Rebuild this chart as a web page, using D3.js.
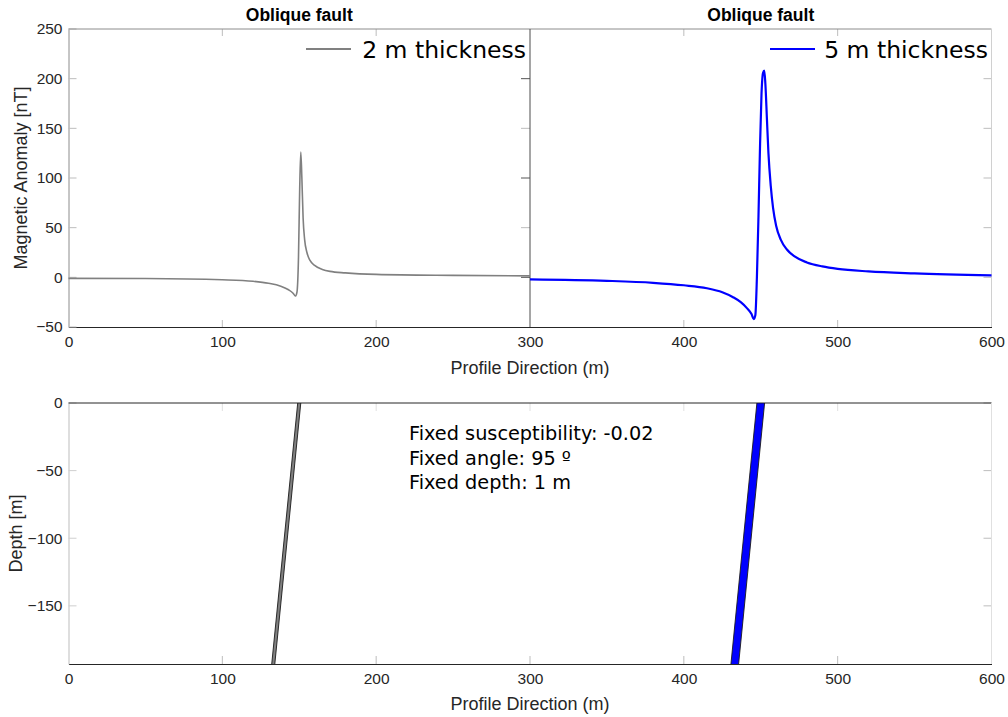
<!DOCTYPE html>
<html>
<head>
<meta charset="utf-8">
<script src="https://cdn.jsdelivr.net/npm/d3@7"></script>
<style>
  html, body { margin: 0; padding: 0; background: #fff; }
  svg { display: block; }
  .tick text { font-family: "Liberation Sans", Arial, sans-serif; font-size: 15.5px; fill: #262626; }
</style>
</head>
<body>
<svg id="chart" width="1008" height="717"></svg>
<script>
// Profile positions (m) and magnetic anomaly (nT), 2 m thick fault
const thinX = [0, 50, 100, 120, 130, 138, 143, 146, 147.5, 148.5, 149.5, 150.3, 151, 151.7, 152.5, 153.5, 155, 157, 160, 165, 170, 180, 200, 250, 300];
const thinY = [-1, -1.2, -2.5, -4, -6, -9, -12.5, -16, -18.8, -15, 20, 90, 126, 100, 60, 38, 25, 17, 12, 8, 6, 4.5, 3, 2, 1.5];

// Profile positions (m) and magnetic anomaly (nT), 5 m thick fault
const thickX = [300, 350, 380, 400, 415, 425, 432, 437, 441, 444, 445.5, 446.5, 447.5, 448.5, 449.5, 450.5, 451.5, 452.3, 453, 454, 455, 456.5, 458, 460, 463, 467, 472, 480, 490, 500, 520, 550, 600];
const thickY = [-2, -3.5, -5.5, -8, -11, -15, -20, -25, -31, -37, -42, -38, 0, 60, 130, 185, 206, 208, 195, 160, 125, 92, 70, 52, 38, 28, 21, 15, 11, 8.5, 6, 4, 2];

// Fault bodies: top position (m), thickness (m), dip angle (deg)
const faultTops = [149, 447.5];
const faultWidths = [2, 5];
const dipAngle = 95;
const faultColors = ["#808080", "#0000ff"];

const legendLabels = ["2 m thickness", "5 m thickness"];
const panelTitles = ["Oblique fault", "Oblique fault"];
const notes = ["Fixed susceptibility: -0.02", "Fixed angle: 95 º", "Fixed depth: 1 m"];

const xTicks = [0, 100, 200, 300, 400, 500, 600];
const anomalyTicks = [-50, 0, 50, 100, 150, 200, 250];
const depthTicks = [-150, -100, -50, 0];

const svg = d3.select("#chart");
const font = '"Liberation Sans", Arial, sans-serif';
const labelSize = 18;

// ---------- scales ----------
const x = d3.scaleLinear().domain([0, 600]).range([68.5, 991.5]);
const yTop = d3.scaleLinear().domain([-50, 250]).range([327, 29]);
const yBot = d3.scaleLinear().domain([-193, 0]).range([664, 403]);

// ---------- upper panels ----------
const upper = svg.append("g");

// x axis along the bottom
const xAxisTop = upper.append("g").attr("transform", `translate(0,${yTop(-50)})`)
  .call(d3.axisBottom(x).tickValues(xTicks).tickSize(0).tickPadding(9));
xAxisTop.select(".domain").attr("stroke", "#262626");

// inner tick marks (bottom and top)
xTicks.slice(1, -1).forEach(v => {
  if (v === 300) return;
  upper.append("line").attr("x1", x(v)).attr("x2", x(v)).attr("y1", yTop(-50)).attr("y2", yTop(-50) - 7).attr("stroke", "#bdbdbd");
  upper.append("line").attr("x1", x(v)).attr("x2", x(v)).attr("y1", yTop(250)).attr("y2", yTop(250) + 7).attr("stroke", "#bdbdbd");
});

// y axis on the left
const yAxisTop = upper.append("g").attr("transform", `translate(${x(0)},0)`)
  .call(d3.axisLeft(yTop).tickValues(anomalyTicks).tickSize(0).tickPadding(6));
yAxisTop.select(".domain").attr("stroke", "#8c8c8c");
anomalyTicks.forEach(v => {
  upper.append("line").attr("x1", x(0)).attr("x2", x(0) + 8).attr("y1", yTop(v)).attr("y2", yTop(v)).attr("stroke", "#bdbdbd");
  if (v > -50 && v < 250) {
    upper.append("line").attr("x1", x(300) - 9).attr("x2", x(300)).attr("y1", yTop(v)).attr("y2", yTop(v)).attr("stroke", v % 100 === 0 ? "#555" : "#bdbdbd");
    upper.append("line").attr("x1", x(600) - 8).attr("x2", x(600)).attr("y1", yTop(v)).attr("y2", yTop(v)).attr("stroke", "#bdbdbd");
  }
});

// frame lines
upper.append("line").attr("x1", x(0)).attr("x2", x(600)).attr("y1", yTop(250)).attr("y2", yTop(250)).attr("stroke", "#8c8c8c");
upper.append("line").attr("x1", x(300)).attr("x2", x(300)).attr("y1", yTop(250)).attr("y2", yTop(-50)).attr("stroke", "#4d4d4d");
upper.append("line").attr("x1", x(600)).attr("x2", x(600)).attr("y1", yTop(250)).attr("y2", yTop(-50)).attr("stroke", "#d0d0d0");

// anomaly curves
const line = d3.line().x(d => x(d[0])).y(d => yTop(d[1])).curve(d3.curveMonotoneX);
upper.append("path").datum(d3.zip(thinX, thinY)).attr("d", line)
  .attr("fill", "none").attr("stroke", faultColors[0]).attr("stroke-width", 1.6);
upper.append("path").datum(d3.zip(thickX, thickY)).attr("d", line)
  .attr("fill", "none").attr("stroke", faultColors[1]).attr("stroke-width", 2.2);

// titles
[150, 450].forEach((c, i) => {
  upper.append("text").attr("x", x(c)).attr("y", 21).attr("text-anchor", "middle")
    .attr("font-family", font).attr("font-weight", "bold").attr("font-size", 17.5).attr("fill", "#000")
    .text(panelTitles[i]);
});

// legends
[[306, 526], [770, 988]].forEach(([lx, tx], i) => {
  upper.append("line").attr("x1", lx).attr("x2", lx + 45).attr("y1", 49).attr("y2", 49)
    .attr("stroke", faultColors[i]).attr("stroke-width", i ? 2.2 : 2);
  upper.append("text").attr("x", tx).attr("y", 57.5).attr("text-anchor", "end")
    .attr("font-family", '"DejaVu Sans", Verdana, sans-serif').attr("font-size", 23.5).attr("fill", "#000")
    .text(legendLabels[i]);
});

// axis labels
upper.append("text").attr("x", x(300)).attr("y", 374).attr("text-anchor", "middle")
  .attr("font-family", font).attr("font-size", labelSize).attr("fill", "#262626").text("Profile Direction (m)");
upper.append("text").attr("transform", `translate(27,${yTop(100)}) rotate(-90)`).attr("text-anchor", "middle")
  .attr("font-family", font).attr("font-size", labelSize).attr("fill", "#262626").text("Magnetic Anomaly [nT]");

// ---------- lower panel ----------
const lower = svg.append("g");
svg.append("clipPath").attr("id", "clipBot").append("rect")
  .attr("x", x(0)).attr("y", yBot(0)).attr("width", x(600) - x(0)).attr("height", yBot(-193) - yBot(0));

const xAxisBot = lower.append("g").attr("transform", `translate(0,${yBot(-193)})`)
  .call(d3.axisBottom(x).tickValues(xTicks).tickSize(0).tickPadding(9));
xAxisBot.select(".domain").attr("stroke", "#262626");
xTicks.slice(1, -1).forEach(v => {
  lower.append("line").attr("x1", x(v)).attr("x2", x(v)).attr("y1", yBot(-193)).attr("y2", yBot(-193) - 8).attr("stroke", "#bdbdbd");
  lower.append("line").attr("x1", x(v)).attr("x2", x(v)).attr("y1", yBot(0)).attr("y2", yBot(0) + 8).attr("stroke", "#e0e0e0");
});

const yAxisBot = lower.append("g").attr("transform", `translate(${x(0)},0)`)
  .call(d3.axisLeft(yBot).tickValues(depthTicks).tickSize(0).tickPadding(6));
yAxisBot.select(".domain").attr("stroke", "#bdbdbd");
depthTicks.forEach(v => {
  lower.append("line").attr("x1", x(0)).attr("x2", x(0) + 8).attr("y1", yBot(v)).attr("y2", yBot(v)).attr("stroke", "#cfcfcf");
  lower.append("line").attr("x1", x(600) - 8).attr("x2", x(600)).attr("y1", yBot(v)).attr("y2", yBot(v)).attr("stroke", "#bdbdbd");
});
lower.append("line").attr("x1", x(0)).attr("x2", x(600)).attr("y1", yBot(0)).attr("y2", yBot(0)).attr("stroke", "#262626");
lower.append("line").attr("x1", x(600)).attr("x2", x(600)).attr("y1", yBot(0)).attr("y2", yBot(-193)).attr("stroke", "#e0e0e0");

// fault bodies, dipping at the fixed angle
const bottomDepth = -200;
const shift = Math.tan((dipAngle - 90) * Math.PI / 180) * bottomDepth;
faultTops.forEach((t, i) => {
  const w = faultWidths[i];
  const pts = [[t, 0], [t + w, 0], [t + w + shift, bottomDepth], [t + shift, bottomDepth]];
  lower.append("path").attr("clip-path", "url(#clipBot)")
    .attr("d", "M" + pts.map(p => [x(p[0]), yBot(p[1])].join(",")).join("L") + "Z")
    .attr("fill", faultColors[i]).attr("stroke", "#1a1a1a").attr("stroke-width", 0.9);
});

// annotation
notes.forEach((n, i) => {
  lower.append("text").attr("x", 409).attr("y", 440 + i * 24.5)
    .attr("font-family", '"DejaVu Sans", Verdana, sans-serif').attr("font-size", 19.3).attr("fill", "#000").text(n);
});

lower.append("text").attr("x", x(300)).attr("y", 710).attr("text-anchor", "middle")
  .attr("font-family", font).attr("font-size", labelSize).attr("fill", "#262626").text("Profile Direction (m)");
lower.append("text").attr("transform", `translate(22,${yBot(-96.5)}) rotate(-90)`).attr("text-anchor", "middle")
  .attr("font-family", font).attr("font-size", labelSize).attr("fill", "#262626").text("Depth [m]");
</script>
</body>
</html>
